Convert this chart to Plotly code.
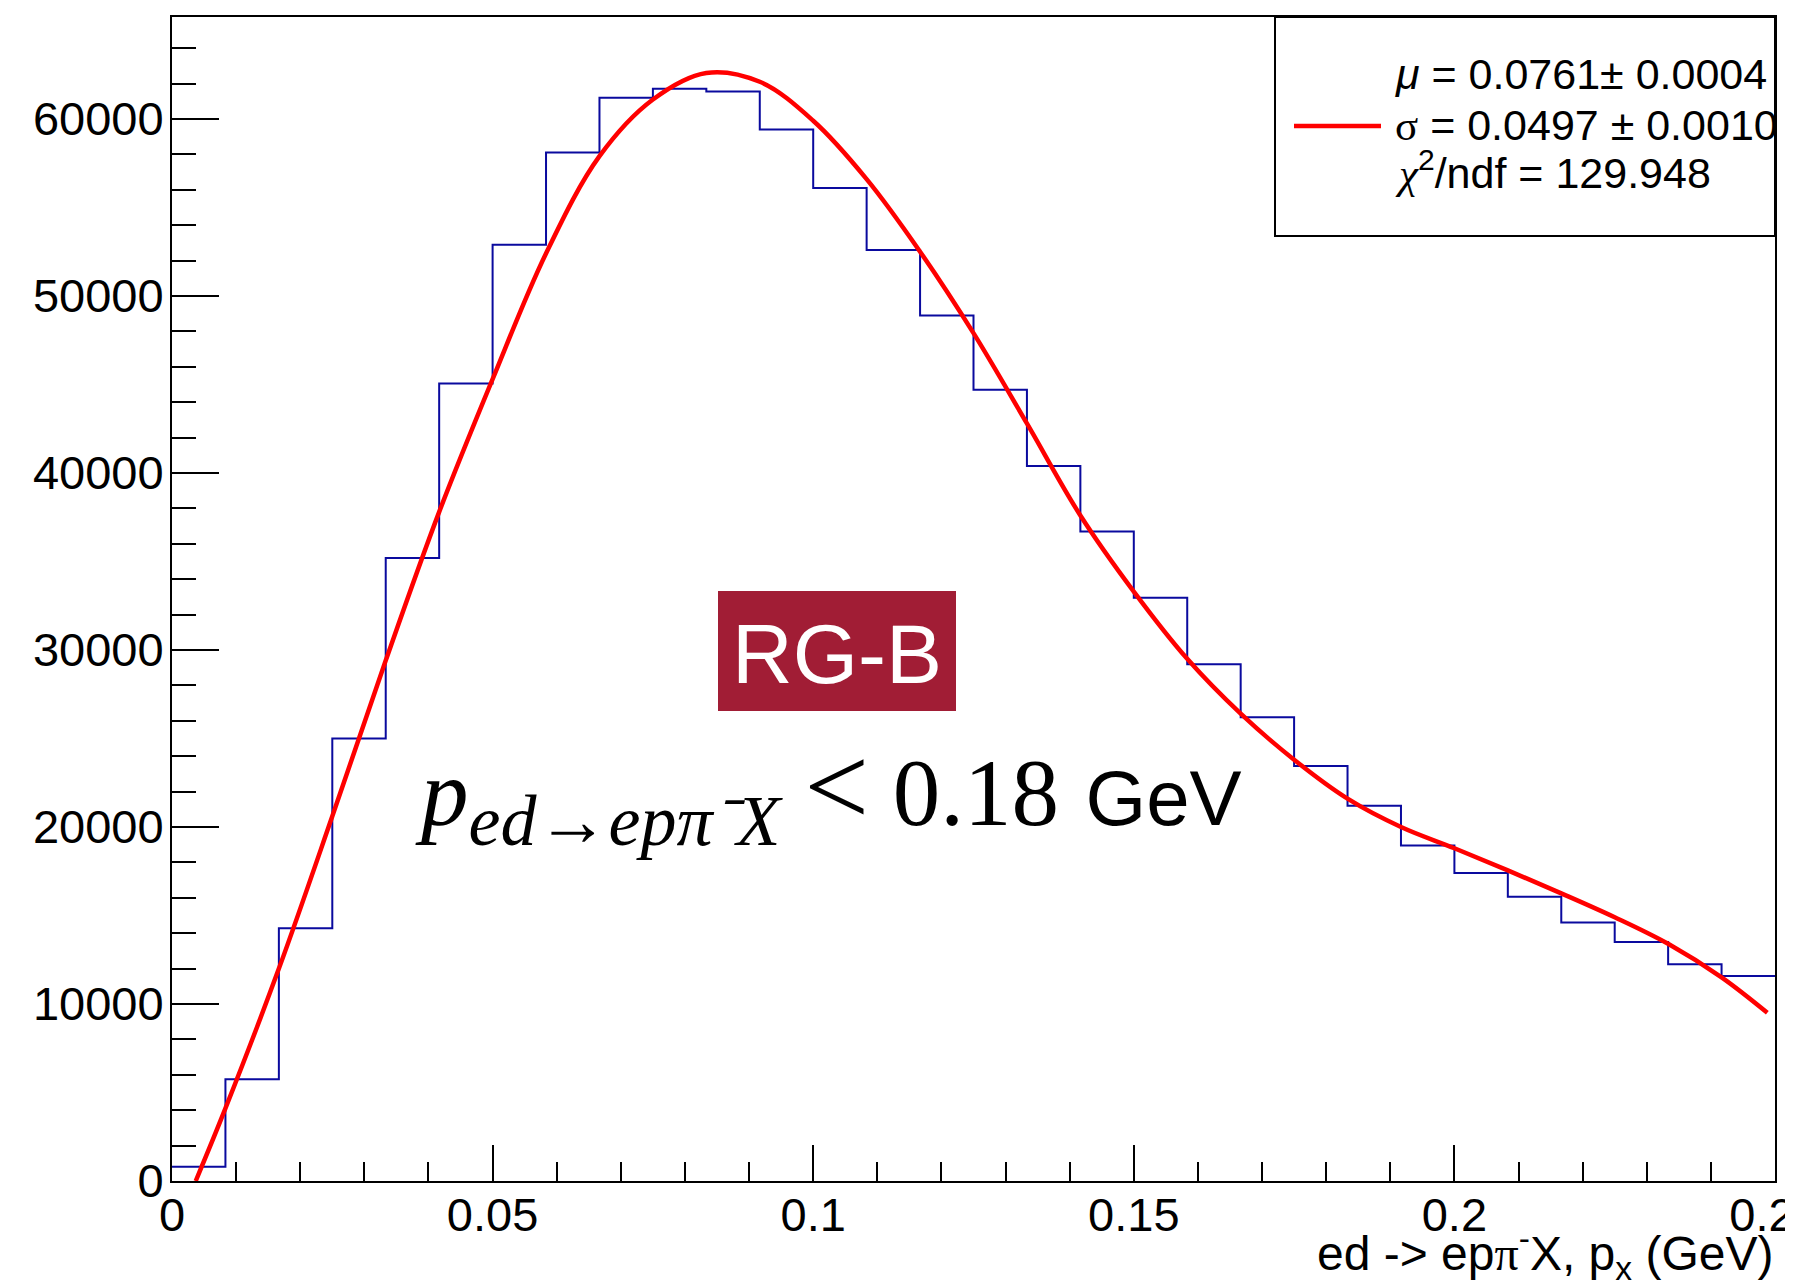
import plotly.graph_objects as go

# ---------------- data ----------------
bin_width = 0.25 / 30
hist_counts = [800, 5750, 14280, 25000, 35200, 45050, 52900, 58100, 61200, 61700,
               61550, 59400, 56100, 52600, 48900, 44700, 40400, 36700, 32950, 29200,
               26200, 23450, 21200, 18950, 17400, 16060, 14600, 13500, 12250, 11580]

fit_x = [0.0037, 0.00833, 0.01667, 0.025, 0.03333, 0.04167, 0.05, 0.05833, 0.06667, 0.075,
         0.08333, 0.09167, 0.1, 0.10833, 0.11667, 0.125, 0.13333, 0.14167, 0.15, 0.15833,
         0.16667, 0.175, 0.18333, 0.19167, 0.2, 0.20833, 0.21667, 0.225, 0.23333, 0.24167,
         0.2488]
fit_y = [0, 4100, 12000, 20600, 29400, 37800, 45300, 52400, 57900, 61100,
         62600, 62100, 59900, 56600, 52500, 47900, 42800, 37600, 33300, 29500,
         26400, 23800, 21600, 20000, 18800, 17550, 16250, 14900, 13400, 11500,
         9500]

x_tickvals = [0, 0.05, 0.1, 0.15, 0.2, 0.25]
x_ticktext = ["0", "0.05", "0.1", "0.15", "0.2", "0.25"]
y_tickvals = [0, 10000, 20000, 30000, 40000, 50000, 60000]
y_ticktext = ["0", "10000", "20000", "30000", "40000", "50000", "60000"]

legend_lines = ["<i>μ</i> = 0.0761± 0.0004",
                "<span style='font-family:Liberation Serif'>σ</span> = 0.0497 ± 0.0010",
                "<span style='font-family:Liberation Serif'><i>χ</i></span><sup>2</sup>/ndf = 129.948"]

# ---------------- figure ----------------
# page body has an 8px default margin; size the figure so the plot area lands
# at the reference's pixel positions inside the 1793x1287 window
OFF = 8
W, H = 1793 - OFF, 1287 - OFF
PL, PT, PR, PB = 172, 17, 1775, 1181          # plot frame in window pixels
ML, MT = PL - OFF, PT - OFF
MR, MB = (W + OFF) - PR, (H + OFF) - PB
PW, PH = PR - PL, PB - PT
YMAX = 65760


def px(xw):  # window pixel x -> paper
    return (xw - PL) / PW


def py(yw):  # window pixel y -> paper
    return (PB - yw) / PH


edges = [i * bin_width for i in range(len(hist_counts) + 1)]
step_y = hist_counts + [hist_counts[-1]]

fig = go.Figure()
fig.add_trace(go.Scatter(x=edges, y=step_y, mode="lines", line_shape="hv",
                         line=dict(color="#0A0A9E", width=2), showlegend=False,
                         hoverinfo="skip"))
fig.add_trace(go.Scatter(x=fit_x, y=fit_y, mode="lines", line_shape="spline",
                         line=dict(color="#FF0000", width=4.5, smoothing=1.0),
                         showlegend=False, hoverinfo="skip"))

font_main = "Liberation Sans, Arial, Helvetica, sans-serif"

fig.update_layout(
    width=W, height=H,
    margin=dict(l=ML, r=MR, t=MT, b=MB, pad=0, autoexpand=False),
    paper_bgcolor="white", plot_bgcolor="white",
    font=dict(family=font_main, color="black", size=47),
    xaxis=dict(range=[0, 0.25], tickvals=x_tickvals, ticktext=x_ticktext,
               ticks="inside", ticklen=36, tickwidth=2, tickcolor="black",
               minor=dict(dtick=0.01, tick0=0, ticks="inside", ticklen=19,
                          tickwidth=2, tickcolor="black"),
               showline=True, linecolor="black", linewidth=2, mirror=True,
               showgrid=False, zeroline=False, automargin=False,
               ticklabeloverflow="allow", ticklabelstandoff=-8,
               tickfont=dict(size=47, family=font_main)),
    yaxis=dict(range=[0, YMAX], tickvals=y_tickvals, ticktext=y_ticktext,
               ticks="inside", ticklen=47, tickwidth=2, tickcolor="black",
               minor=dict(dtick=2000, tick0=0, ticks="inside", ticklen=24,
                          tickwidth=2, tickcolor="black"),
               showline=True, linecolor="black", linewidth=2, mirror=True,
               showgrid=False, zeroline=False, automargin=False,
               ticklabelstandoff=-3,
               tickfont=dict(size=47, family=font_main)),
)

# legend box (fit statistics)
fig.add_shape(type="rect", xref="paper", yref="paper",
              x0=px(1275), x1=1.0, y0=py(236), y1=1.0,
              line=dict(color="black", width=2), fillcolor="rgba(0,0,0,0)", layer="above")
fig.add_shape(type="line", xref="paper", yref="paper",
              x0=px(1294), x1=px(1381), y0=py(126), y1=py(126),
              line=dict(color="#FF0000", width=4.5))
for txt, yc in zip(legend_lines, [74, 125, 170]):
    fig.add_annotation(x=px(1393), y=py(yc), xref="paper", yref="paper",
                       xanchor="left", yanchor="middle", showarrow=False,
                       text=txt, font=dict(size=43, family=font_main, color="black"))

# RG-B badge
fig.add_shape(type="rect", xref="paper", yref="paper",
              x0=px(718), x1=px(956), y0=py(711), y1=py(591),
              line=dict(width=0), fillcolor="#A11D35", layer="above")
fig.add_annotation(x=px(837), y=py(654), xref="paper", yref="paper",
                   xanchor="center", yanchor="middle", showarrow=False,
                   text="RG-B", font=dict(size=84, family=font_main, color="white"))

# momentum cut label
fig.add_annotation(
    x=px(413), y=py(792), xref="paper", yref="paper", xanchor="left", yanchor="middle",
    showarrow=False,
    text=("<span style='font-family:Liberation Serif'><i>p</i><sub><span style='font-size:72px'>"
          "<i>ed→epπ⁻X</i></span></sub> <span style='font-size:115px'>&lt;</span> 0.18</span>"
          " <span style='font-size:78px'>GeV</span>"),
    font=dict(size=95, family=font_main, color="black"))

# x-axis title
fig.add_annotation(
    x=1.0, y=py(1218), xref="paper", yref="paper", xanchor="right", yanchor="top",
    showarrow=False,
    text="ed -&gt; ep<span style='font-family:Liberation Serif'>π</span><sup>-</sup>X, p<sub>x</sub> (GeV)",
    font=dict(size=48, family=font_main, color="black"))

fig.write_html("out.html")
